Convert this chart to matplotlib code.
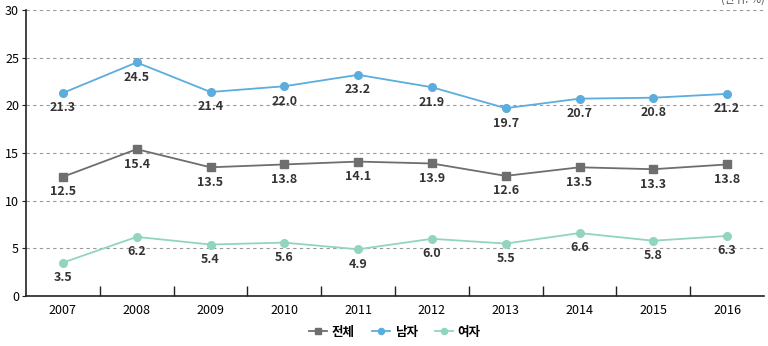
import numpy as np
import matplotlib.pyplot as plt
from matplotlib.ticker import FixedLocator

plt.rcParams["font.family"] = ["Noto Sans CJK KR", "DejaVu Sans"]

years = ["2007", "2008", "2009", "2010", "2011", "2012", "2013", "2014", "2015", "2016"]
total = [12.5, 15.4, 13.5, 13.8, 14.1, 13.9, 12.6, 13.5, 13.3, 13.8]
male = [21.3, 24.5, 21.4, 22.0, 23.2, 21.9, 19.7, 20.7, 20.8, 21.2]
female = [3.5, 6.2, 5.4, 5.6, 4.9, 6.0, 5.5, 6.6, 5.8, 6.3]

fig = plt.figure(figsize=(7.68, 3.46), dpi=100)
ax = fig.add_axes([26/768, 1-296/346, 738/768, 286/346])

x = np.arange(len(years))
series = [
    ("전체", total, "#6e6e6e", "s"),
    ("남자", male, "#5badde", "o"),
    ("여자", female, "#92d5bf", "o"),
]
for name, vals, col, mk in series:
    ax.plot(x, vals, color=col, marker=mk, markersize=5.5, linewidth=1.3, label=name)
    for xi, v in zip(x, vals):
        ax.annotate(f"{v:.1f}", (xi, v), xytext=(0, -6), textcoords="offset points",
                    ha="center", va="top", fontsize=9, fontweight="bold", color="#333333")

ax.set_xlim(-0.5, len(years) - 0.5)
ax.set_ylim(0, 30)
ax.set_yticks(range(0, 31, 5))
ax.yaxis.grid(True, linestyle=(0, (3, 3)), color="#999999", linewidth=0.8)
ax.set_axisbelow(True)

ax.set_xticks(x)
ax.set_xticklabels(years)
ax.tick_params(axis="x", which="major", length=0, labelsize=9, pad=6)
ax.xaxis.set_minor_locator(FixedLocator(np.arange(0.5, len(years) - 1, 1)))
ax.tick_params(axis="x", which="minor", direction="in", length=7, width=1, color="#222222")
ax.tick_params(axis="y", length=3, labelsize=9, pad=2, color="#222222")

for s in ["top", "right"]:
    ax.spines[s].set_visible(False)
for s in ["left", "bottom"]:
    ax.spines[s].set_color("#222222")
    ax.spines[s].set_linewidth(1.2)

ax.legend(loc="center", bbox_to_anchor=(0.5, -0.126), ncol=3, frameon=False,
          handlelength=1.4, handletextpad=0.4, columnspacing=1.4, markerscale=0.8,
          prop={"weight": "bold", "size": 9})

fig.text(765/768, 1 + 1/346, "(단위: %)", ha="right", va="center", fontsize=8, color="#555555")

fig.savefig("out.png", dpi=100)
